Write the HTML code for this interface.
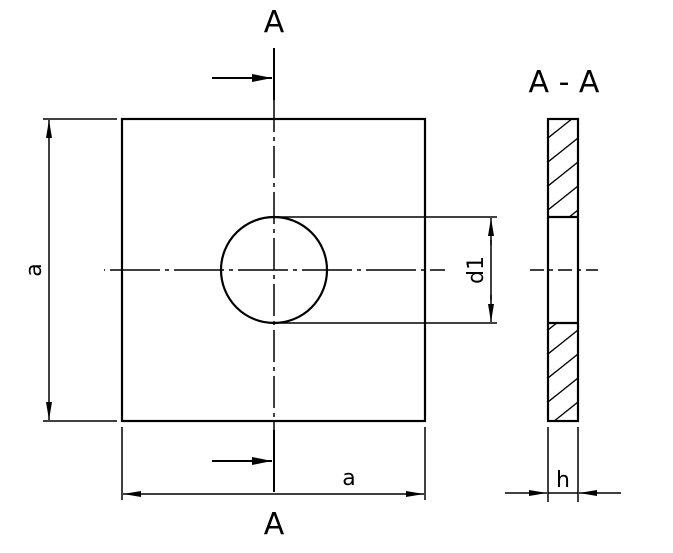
<!DOCTYPE html>
<html><head><style>html,body{margin:0;padding:0;background:#fff}svg{display:block}</style></head>
<body>
<svg width="673" height="553" viewBox="0 0 673 553" xmlns="http://www.w3.org/2000/svg">
<defs>
<marker id="ar" viewBox="0 0 20 8" refX="20" refY="4" markerWidth="20" markerHeight="8" markerUnits="userSpaceOnUse" orient="auto"><path d="M0,0 L20,4 L0,8 Z" fill="#000"/></marker>
<marker id="as" viewBox="0 0 18 6" refX="18" refY="3" markerWidth="18" markerHeight="6" markerUnits="userSpaceOnUse" orient="auto"><path d="M0,0 L18,3 L0,6 Z" fill="#000"/></marker>
<pattern id="hat" patternUnits="userSpaceOnUse" width="30" height="24" patternTransform="translate(548,114)">
<path d="M-3,26.4 L33,-2.4" stroke="#000" stroke-width="1.3"/>
</pattern>
</defs>
<g fill="none" stroke="#000">
<rect x="122" y="119" width="303" height="302" stroke-width="2.2"/>
<circle cx="274" cy="270" r="53" stroke-width="2.2"/>
<line x1="274" y1="48" x2="274" y2="100" stroke-width="2"/>
<line x1="274" y1="100" x2="274" y2="430" stroke-width="1.5" stroke-dasharray="32,5,4,5"/>
<line x1="274" y1="430" x2="274" y2="492" stroke-width="2"/>
<line x1="104" y1="270" x2="445" y2="270" stroke-width="1.5" stroke-dasharray="50,5,4,5" stroke-dashoffset="-6"/>
<line x1="274" y1="217" x2="497" y2="217" stroke-width="1.5"/>
<line x1="274" y1="323" x2="497" y2="323" stroke-width="1.5"/>
<line x1="491" y1="245" x2="491" y2="218" stroke-width="1.5" marker-end="url(#as)"/>
<line x1="491" y1="295" x2="491" y2="322" stroke-width="1.5" marker-end="url(#as)"/>
<line x1="491" y1="240" x2="491" y2="300" stroke-width="1.5"/>
<line x1="43" y1="119" x2="117" y2="119" stroke-width="1.5"/>
<line x1="43" y1="421" x2="117" y2="421" stroke-width="1.5"/>
<line x1="49" y1="270" x2="49" y2="120" stroke-width="1.5" marker-end="url(#as)"/>
<line x1="49" y1="270" x2="49" y2="420" stroke-width="1.5" marker-end="url(#as)"/>
<line x1="122" y1="427" x2="122" y2="500" stroke-width="1.5"/>
<line x1="425" y1="427" x2="425" y2="500" stroke-width="1.5"/>
<line x1="274" y1="494" x2="123" y2="494" stroke-width="1.5" marker-end="url(#as)"/>
<line x1="274" y1="494" x2="424" y2="494" stroke-width="1.5" marker-end="url(#as)"/>
<line x1="212" y1="78" x2="272" y2="78" stroke-width="2" marker-end="url(#ar)"/>
<line x1="212" y1="461" x2="272" y2="461" stroke-width="2" marker-end="url(#ar)"/>
<rect x="548" y="119" width="30" height="98" fill="url(#hat)" stroke="none"/>
<rect x="548" y="323" width="30" height="98" fill="url(#hat)" stroke="none"/>
<rect x="548" y="119" width="30" height="302" stroke-width="2.2"/>
<line x1="548" y1="217" x2="578" y2="217" stroke-width="2.2"/>
<line x1="548" y1="323" x2="578" y2="323" stroke-width="2.2"/>
<line x1="530" y1="270" x2="598" y2="270" stroke-width="1.5" stroke-dasharray="14,5,4,5"/>
<line x1="548" y1="427" x2="548" y2="502" stroke-width="1.5"/>
<line x1="578" y1="427" x2="578" y2="502" stroke-width="1.5"/>
<line x1="505" y1="493" x2="547" y2="493" stroke-width="1.5" marker-end="url(#as)"/>
<line x1="621" y1="493" x2="579" y2="493" stroke-width="1.5" marker-end="url(#as)"/>
<line x1="548" y1="493" x2="578" y2="493" stroke-width="1.5"/>
</g>
<g font-family="'DejaVu Sans','Liberation Sans',sans-serif" fill="#000" text-anchor="middle">
<text x="274" y="32" font-size="30">A</text>
<text x="274" y="534" font-size="30">A</text>
<text x="564" y="92" font-size="30" xml:space="preserve">A - A</text>
<text x="349" y="485" font-size="22">a</text>
<text x="563" y="487" font-size="22">h</text>
<text transform="translate(41,270) rotate(-90)" font-size="22">a</text>
<text transform="translate(483,270) rotate(-90)" font-size="22">d1</text>
</g>
</svg>
</body></html>
